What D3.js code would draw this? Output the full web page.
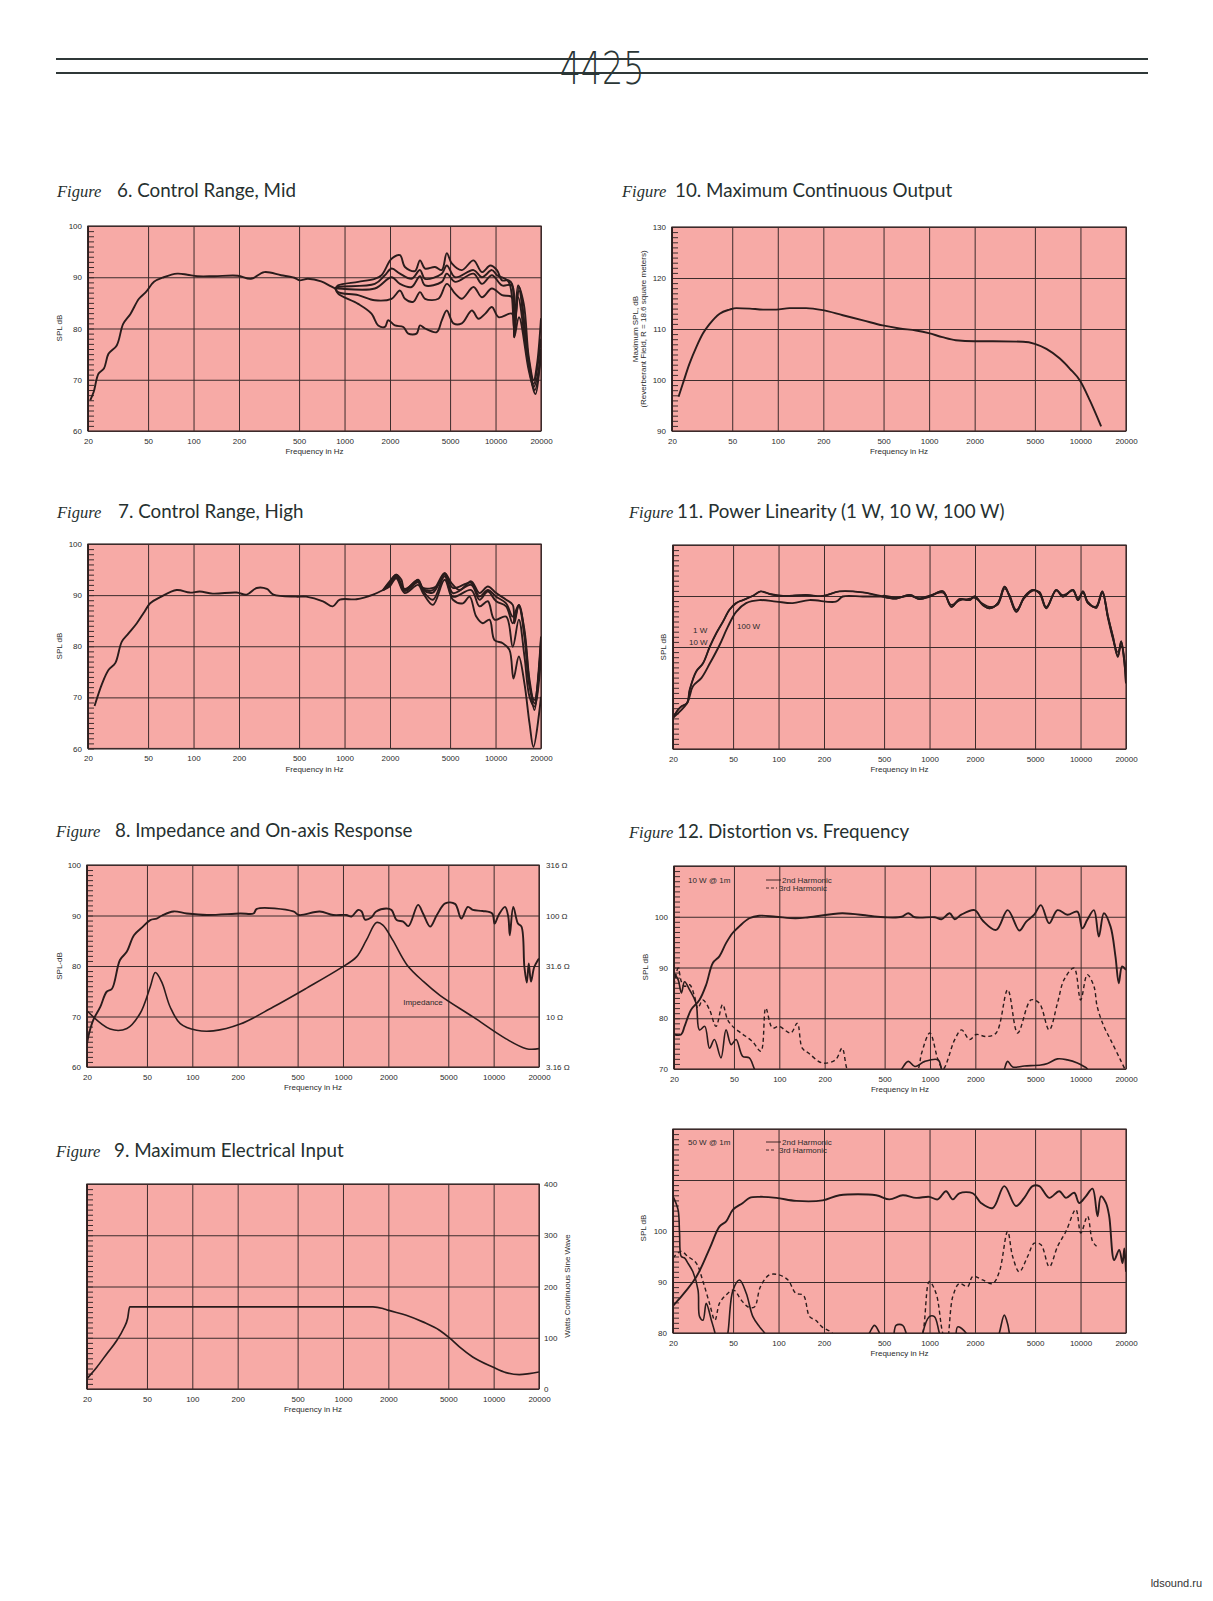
<!DOCTYPE html>
<html>
<head>
<meta charset="utf-8">
<script src="https://cdn.jsdelivr.net/npm/d3@7"></script>
<style>
  body {margin: 0; background: #fff;}
  .ax text {font-family: "Liberation Sans", Arial, sans-serif; font-size: 8px; fill: #2b2b2b;}
  .ax line {stroke: #3d2c2c; stroke-width: 1;}
  .lbl {font-family: "Liberation Sans", Arial, sans-serif; font-size: 8px; fill: #2b2b2b;}
  .ttl {font-family: Lato, "Open Sans", sans-serif; font-size: 18.8px; fill: #26302f;}
  .fig {font-family: "Liberation Serif", serif; font-style: italic; font-size: 16.5px; fill: #26302f;}
</style>
</head>
<body>
<script>
const freqTicks = [20, 50, 100, 200, 500, 1000, 2000, 5000, 10000, 20000]

// Figure 6. Control Range, Mid  (Hz, dB)
const midBase = [[20.7,66],[21.8,67.6],[23.5,71.2],[25.5,72.2],[27.4,75.1],[31,76.7],[34.2,80.9],[38.3,82.9],[43.5,85.8],[48.3,87.1],[54.7,89.1],[63.5,90],[78,90.7],[91,90.5],[106,90.2],[137,90.2],[196,90.3],[240,89.7],[294,91],[380,90.4],[465,89.9],[503,89.4],[572,89.7],[700,89.2],[815,88.2],[870,87.8]]
const midA = [[870,87.8],[906,88.4],[1230,89.1],[1586,89.7],[1758,90.4],[2048,93.6],[2328,94.3],[2512,92],[2926,91.2],[3160,93.3],[3412,91.7],[3975,92],[4406,91.4],[4755,94.7],[5130,92.7],[5980,91.4],[7150,93.3],[8125,91],[9230,92.3],[10220,91.4],[11040,89.4],[12220,89.4],[12860,88.7],[13300,79],[14100,88.4],[15380,84.8],[16600,74.4],[17900,69.9],[18840,73.1],[20000,82]]
const midB = [[870,87.8],[906,88.1],[1586,88.7],[1850,90.4],[2048,91.7],[2328,90.7],[2780,89.7],[3160,91.4],[3412,89.7],[4406,90.7],[4755,92.3],[5400,90],[7150,91.4],[8125,90],[9460,91.4],[10220,90.4],[12220,89.1],[13300,79.6],[14300,88.1],[16600,73.8],[17900,69.2],[20000,78]]
const midC = [[870,87.8],[906,87.8],[1586,87.8],[2048,90],[2328,88.7],[2780,88.1],[3160,90.2],[3412,88.4],[4406,89.1],[4755,90.7],[5400,89.1],[7150,90.7],[8125,88.7],[9460,90.4],[11040,88.4],[12860,88.4],[13300,80.3],[14300,87.4],[16600,73.1],[18200,68],[20000,75.1]]
const midD = [[870,87.8],[906,87.1],[1230,86.5],[1586,85.5],[2048,85.8],[2328,87.4],[2512,85.8],[2852,85.2],[3160,87.1],[3412,85.8],[4183,85.8],[4755,88.7],[5400,86.8],[5980,85.8],[7150,88.1],[8125,86.1],[9460,87.8],[11040,86.5],[12860,86.1],[13300,78.3],[14100,86.1],[16600,72.5],[18380,67.2],[20000,76]]
const midE = [[870,87.8],[906,86.8],[1230,84.8],[1508,82.9],[1670,80.6],[1850,80.3],[1946,81.6],[2155,80.6],[2449,80.3],[2642,79],[3000,79],[3160,80.6],[3412,80],[4078,79.3],[4406,81.6],[4755,83.5],[5260,81],[5980,81],[6970,83.5],[7715,81.9],[8550,82.9],[9460,84.2],[10480,82.2],[12860,82.9],[13300,78.3],[14300,82.2],[16600,71.8],[17900,68.6],[20000,74.4]]

// Figure 7. Control Range, High
const highBase = [[22.1,68.3],[24.8,72.7],[27.4,75.4],[30.3,76.7],[33.5,80.9],[37.1,82.5],[42.1,84.5],[46.7,86.5],[51.6,88.4],[60.1,89.6],[77.3,91],[94.5,90.5],[110,90.7],[134,90.3],[193,90.5],[225,90.1],[262,91.4],[306,91.2],[338,90.1],[478,89.7],[557,89.7],[720,88.8],[835,87.8],[930,89.1],[1200,89.2],[1546,90.1],[1800,91]]
const highA = [[1800,91],[1990,92.7],[2200,94],[2380,93],[2500,91],[3070,93],[3310,91.4],[4050,91.7],[4600,94.3],[5090,92.4],[5780,91],[6900,92.7],[7830,90.4],[8890,91.7],[10100,90.4],[11750,89.1],[13000,88.1],[13340,84.5],[14260,88.1],[15540,83.2],[16790,73.4],[18100,68.8],[20000,81.9]]
const highB = [[1800,91],[1990,92.5],[2200,94],[2500,91.2],[3070,92.9],[3310,91.2],[3850,91],[4600,94.3],[5220,91.4],[6900,92.4],[7830,89.7],[8890,91],[10100,89.7],[11750,88.4],[13000,85.8],[14260,88.1],[15540,82.5],[16790,72.7],[18100,67.5],[20000,81.2]]
const highC = [[1800,91],[1990,92.3],[2200,93.8],[2500,91],[3070,92.7],[3310,91],[3850,90.5],[4600,94],[5220,90.4],[6900,92],[7830,89.1],[8890,90.7],[10100,88.8],[11750,87.8],[13000,84.5],[14260,87.8],[15540,81.9],[16790,72.1],[18100,69.5],[20000,79.9]]
const highD = [[1800,91],[1990,92],[2200,93.6],[2500,90.8],[3070,92.5],[3310,90.8],[3850,89.1],[4600,93.7],[5220,89.7],[6900,91],[7830,87.8],[8890,88.8],[9840,85.2],[11750,85.8],[13000,79.9],[14260,85.2],[15540,78],[16790,70.1],[18100,68.2],[20000,78]]
const highE = [[1800,91],[1990,91.7],[2200,93.3],[2500,90.4],[3070,92],[3310,90.4],[3850,88.1],[4600,93],[5220,89.1],[6080,88.4],[6730,89.7],[7450,85.8],[8240,84.5],[9120,85.2],[9840,81.2],[11170,80.6],[12360,79.3],[13150,73.7],[14260,78],[15540,72.7],[16790,64.9],[17830,60.3],[20000,70.1]]

// Figure 8. Impedance and On-axis Response
const onAxisSpl = [[20,64.6],[20.5,66.3],[22,69.3],[24.5,71.9],[27,74.9],[29.3,75.5],[33.1,81.2],[36.7,82.8],[41,86.1],[47,87.8],[52.6,89.1],[58,89.4],[63,90],[75,90.8],[92,90.4],[125,90.1],[208,90.4],[255,90.4],[268,91.3],[468,90.8],[510,90.1],[700,90.8],[860,90.1],[1050,90.1],[1140,89.8],[1260,91.1],[1330,90.8],[1400,89.2],[1540,89.6],[1660,90.8],[1940,91.4],[2100,91.1],[2270,89.1],[2510,88.8],[2720,87.9],[3150,92.1],[3400,90.4],[3790,87.8],[4200,90.1],[4770,92.4],[5540,92.3],[6100,89.4],[6740,91.7],[7280,91.1],[8450,90.9],[9780,90.4],[10150,88.4],[10800,90.1],[11900,91.7],[12500,89.8],[12800,86.1],[13500,91.7],[14500,88.4],[15300,87.8],[16000,79.8],[16600,76.7],[17100,80.5],[17700,76.9],[18600,79.8],[20000,81.5]]
const impedanceOhm = [[20,11.4],[28.5,7.5],[36.8,7.6],[45,10.7],[52.6,19.7],[56.8,27.2],[62.5,22.1],[71.3,12.4],[83.2,8.5],[107,7.3],[138,7.2],[208,8.4],[344,12.4],[574,19.1],[957,29.9],[1230,38.9],[1430,56.9],[1670,85.1],[1840,80.4],[2140,56.9],[2660,32.4],[3430,22.1],[4400,16.2],[7300,9.9],[12100,6.0],[16500,4.8],[20000,4.8]]
const ohmTicks = [3.16, 10, 31.6, 100, 316]

// Figure 9. Maximum Electrical Input (watts)
const maxInputW = [[20,20.2],[23.3,43],[27.1,69],[31.6,95],[35,118],[37.2,137.5],[38.4,160.3],[1582,160.3],[1842,157],[1988,153.8],[2630,144],[3390,131],[4370,114.7],[5090,99.7],[5930,82.1],[7260,62.5],[9860,43],[12080,32],[14800,28],[17220,30],[20000,33.2]]
const wattTicks = [0, 100, 200, 300, 400]

// Figure 10. Maximum Continuous Output
const maxOutput = [[22.1,96.7],[23.6,99.3],[26.1,103.2],[29,106.5],[32,109.1],[35.5,111],[41.3,113],[48,113.8],[53.2,114.1],[65.4,114],[79.9,113.8],[97.7,113.8],[119.6,114.1],[154,114.1],[198.5,113.7],[269,112.7],[366,111.7],[494,110.7],[637,110.1],[820,109.7],[994,109.2],[1225,108.4],[1500,107.8],[1990,107.6],[2640,107.6],[4170,107.5],[4990,107.1],[5960,106.1],[7310,104.2],[8520,102.2],[9920,99.9],[11540,96],[13700,90.9]]

// Figure 11. Power Linearity
const lin1W = [[20,66.1],[21.6,67.7],[22.6,68.3],[24.8,69],[25.8,71.6],[28.5,75.2],[31.6,76.8],[35.1,80.1],[38.7,82.7],[42.9,85],[47.3,87.3],[52.4,88.6],[58,89.2],[67.3,90],[76.2,90.9],[87.3,90.4],[107,90],[152,90.2],[196,90],[253,90.9],[361,90.7],[492,89.9]]
const lin100W = [[20,66.1],[24.8,69],[27.1,72.3],[30.8,73.9],[35.1,76.8],[40.7,80.4],[46.2,84],[52.4,86.9],[61,88.6],[74.5,89.2],[96.5,88.9],[124,88.6],[160,89.2],[240,88.9],[266,89.9],[361,89.9],[492,89.9]]
const linHighA = [[492,89.9],[602,89.5],[738,90.2],[860,89.4],[1000,89.9],[1227,90.9],[1394,87.9],[1582,89.4],[1842,89.2],[1988,89.9],[2260,88.2],[2500,87.6],[2838,88.6],[3140,91.8],[3388,89.9],[3752,86.9],[4260,89.9],[4840,91.2],[5360,90.5],[5930,87.6],[6900,91.2],[7640,89.9],[8900,91.2],[9620,89.2],[10380,90.9],[11200,88.6],[12700,87.9],[13930,90.9],[15180,86],[16380,82],[17660,78.1],[18580,81.1],[19550,76.8],[20000,72.9]]
const linHighB = [[492,90.1],[602,89.7],[738,90],[860,89.6],[1000,90.1],[1227,90.6],[1394,88.3],[1582,89.1],[1842,89.5],[1988,89.6],[2260,88.5],[2500,87.9],[2838,88.3],[3140,91.4],[3388,90.2],[3752,87.3],[4260,89.6],[4840,91],[5360,90.8],[5930,87.9],[6900,91],[7640,90.2],[8900,91],[9620,89.5],[10380,90.6],[11200,88.9],[12700,87.6],[13930,90.6],[15180,85.5],[16380,81.5],[17660,79],[18580,80.2],[19550,77.5],[20000,74]]

// Figure 12. Distortion vs. Frequency, 10 W @ 1m
const dist10Fund = [[20,76.8],[22.3,76.8],[23.5,78.4],[26,81.7],[29.5,83.6],[32.7,86.6],[36.2,90.9],[40,92.2],[44.3,94.8],[49,96.8],[54.2,98.1],[63.2,99.7],[73.5,100.2],[94.6,100],[128,99.7],[157,99.9],[261,100.7],[391,100.2],[504,99.9],[649,100],[718,100.7],[794,99.9],[1077,99.9],[1192,99.5],[1352,100.7],[1460,99.5],[1614,100.4],[1978,101.3],[2244,99.2],[2750,97.4],[3280,101.3],[3920,97.3],[4340,99],[4920,100.4],[5450,102.3],[6180,98.7],[7020,101.3],[8170,100.4],[9510,101],[10260,97.7],[11070,99.4],[12250,101.3],[13210,96.1],[14260,100.7],[15780,98.1],[17020,92.2],[17910,86.9],[18840,90.2],[20000,89.5]]
const dist10H2 = [[20,88.9],[21.3,87.6],[22.4,85],[23.5,87.2],[25.4,85.6],[28,83],[29.5,77.7],[32,78.4],[34.4,74.1],[37.1,75.8],[41,72.2],[44.3,77.7],[47.9,74.8],[51.7,75.8],[57.1,72.5],[63.2,72.2],[68.4,70],[80,66],[550,66],[649,70],[718,71.5],[794,70.5],[925,71.5],[1132,71.8],[1192,70],[1300,66],[2900,66],[3120,70],[3280,71.5],[3540,70.4],[4230,70.6],[5450,70.8],[6030,71.1],[7020,72],[8170,71.8],[9510,71.2],[10520,70.5],[11070,70],[12000,66]]
const dist10H3 = [[20,86.6],[21.3,89.9],[22.4,87.2],[23.5,86.3],[25.4,86.6],[27.4,84.3],[28.8,82],[31.1,83.6],[34.4,81.7],[38,78.4],[42,82.7],[45.4,79.7],[49,78.4],[55.6,77.1],[66.4,75.4],[75.4,73.5],[81.3,82],[90,78.1],[99.6,78.4],[119,77.1],[131.6,79],[142,74.1],[157,73.1],[192,71.2],[236,71.8],[261,74.1],[281,70],[320,66],[700,66],[836,70],[880,73.1],[998,77.1],[1132,71.8],[1222,70],[1460,75.8],[1620,77.7],[1832,75.8],[2028,76.8],[2360,76.4],[2750,77.1],[3280,85.6],[3820,77.1],[4680,83.6],[5310,83],[6180,77.7],[7020,83],[7760,87.6],[9040,89.9],[10000,83.6],[11070,88.6],[12250,86.3],[12880,82.3],[14260,78.4],[15780,75.8],[18370,71.8],[20000,69.5]]

// Figure 12, 50 W @ 1m
const dist50Fund = [[20,85.3],[28.5,91],[35,96.6],[40.7,100.9],[45,101.9],[49.9,104.2],[58,105.5],[64.3,106.5],[74.9,106.7],[96.6,106.5],[131,105.9],[196,106],[253,107],[443,107],[542,106.2],[664,107],[815,106.5],[997,106.7],[1132,106.2],[1286,107.8],[1424,106.2],[1575,107.4],[1932,107.4],[2192,105.5],[2618,104.5],[3126,108.8],[3732,104.9],[4238,106.5],[4812,108.8],[5330,108.8],[6210,106.5],[7230,107.8],[8000,106.5],[9080,107.5],[9800,105.5],[10840,106.8],[12000,108.3],[12950,102.9],[13640,106.8],[14720,105.5],[15480,102.9],[16700,94.3],[18020,96.3],[18960,93.7],[19500,96.6],[20000,92]]
const dist50H2 = [[20,106.8],[21.6,104.2],[22.1,99.6],[22.7,95],[23.9,94.7],[25.1,93.7],[27.1,92],[29.3,88.4],[30,83.2],[31.6,82.5],[33.2,85.8],[35.9,82.5],[37.8,80.2],[40,77],[44,77],[46.2,80],[49.9,88.4],[55.2,90.4],[61.1,87.8],[67.6,83.2],[74.9,81.2],[80.8,80],[90,77],[360,77],[400,80],[432,81.5],[466,80],[500,77],[560,77],[600,81.5],[664,81.5],[700,80],[760,77],[880,77],[902,80],[997,83.2],[1077,83.2],[1161,80],[1250,77],[1450,77],[1535,81.2],[1744,80],[1900,77],[2700,77],[2898,80],[3126,83.5],[3288,81.8],[3374,80],[3500,77]]
const dist50H3 = [[20,94.7],[22.6,96],[25.1,95],[28.5,93.7],[31.6,90.1],[34.9,85.8],[37.9,82.5],[40.6,85.8],[44.7,87.4],[50.5,88.4],[56.8,86.4],[62.9,85.1],[69.2,85.1],[75.9,89.1],[87.1,91.4],[100.4,91.4],[115.5,90.4],[130,87.8],[146,87.4],[160.5,83.2],[176.5,82.5],[194,81.2],[226,80],[260,77],[820,77],[902,80],[997,90.1],[1104,87.8],[1222,80],[1300,78],[1424,87.1],[1575,89.7],[1788,89.1],[1932,91.1],[2248,90.4],[2618,89.7],[2898,92],[3288,99.9],[3550,95],[3928,92],[4460,95],[4936,97.6],[5470,97.3],[6210,93],[7050,97],[8000,99.9],[9310,104.2],[10040,99.6],[11120,102.9],[12000,98],[12770,97]]

const PINK = '#f7aaa6'
const INK = '#2a1c1c'

const svg = d3.select('body').append('svg').attr('width', 1213).attr('height', 1601)
svg.append('rect').attr('width', 1213).attr('height', 1601).attr('fill', '#fff')

// header
svg.append('line').attr('x1', 56).attr('x2', 1148).attr('y1', 59).attr('y2', 59).attr('stroke', '#2f3838').attr('stroke-width', 2)
svg.append('line').attr('x1', 56).attr('x2', 1148).attr('y1', 73).attr('y2', 73).attr('stroke', '#2f3838').attr('stroke-width', 2)
svg.append('text').attr('text-anchor', 'middle')
  .attr('transform', 'translate(602,84) scale(0.74,1)')
  .style('font-family', '"DejaVu Sans", sans-serif').style('font-weight', 200)
  .style('font-size', '45px').style('fill', '#2a3636').text('4425')

let clipN = 0
function panel(c) {
  const x = d3.scaleLog().domain([20, 20000]).range([c.l, c.r])
  const y = d3.scaleLinear().domain(c.yDomain).range([c.b, c.t])
  const w = c.r - c.l, h = c.b - c.t
  const g = svg.append('g')
  g.append('rect').attr('x', c.l).attr('y', c.t).attr('width', w).attr('height', h).attr('fill', PINK)

  const xa = g.append('g').attr('class', 'ax').attr('transform', `translate(0,${c.b})`)
    .call(d3.axisBottom(x).tickValues(freqTicks).tickSize(-h).tickPadding(7).tickFormat(d3.format('d')))
  xa.select('.domain').remove()

  const ya = g.append('g').attr('class', 'ax').attr('transform', `translate(${c.l},0)`)
    .call(d3.axisLeft(y).tickValues(c.major).tickSize(-w).tickPadding(6)
      .tickFormat(d => (c.labels && c.labels.includes(d)) ? d : ''))
  ya.select('.domain').remove()

  const mi = g.append('g').attr('class', 'ax').attr('transform', `translate(${c.l},0)`)
    .call(d3.axisLeft(y).tickValues(d3.range(c.yDomain[0], c.yDomain[1], c.step)).tickSize(-6).tickFormat(''))
  mi.select('.domain').remove()

  g.append('rect').attr('x', c.l).attr('y', c.t).attr('width', w).attr('height', h)
    .attr('fill', 'none').attr('stroke', '#3d2c2c').attr('stroke-width', 1.2)
  g.append('line').attr('x1', c.l).attr('x2', c.l).attr('y1', c.t).attr('y2', c.b)
    .attr('stroke', '#2d2020').attr('stroke-width', 1.8)

  g.append('text').attr('class', 'lbl').attr('x', (c.l + c.r) / 2).attr('y', c.b + 23)
    .attr('text-anchor', 'middle').text('Frequency in Hz')

  const id = 'clip' + (clipN++)
  svg.append('clipPath').attr('id', id).append('rect')
    .attr('x', c.l).attr('y', c.t).attr('width', w).attr('height', h)
  const plot = g.append('g').attr('clip-path', `url(#${id})`)
  return {x, y, g, plot}
}

function draw(p, data, opt = {}) {
  const line = d3.line().x(d => p.x(d[0])).y(d => (opt.y || p.y)(d[1]))
    .curve(opt.curve || d3.curveCatmullRom.alpha(0.5))
  p.plot.append('path').datum(data).attr('d', line).attr('fill', 'none')
    .attr('stroke', INK).attr('stroke-width', opt.width || 1.9)
    .attr('stroke-linejoin', 'round')
    .attr('stroke-dasharray', opt.dash || null)
}

function title(x1, x2, y, num) {
  svg.append('text').attr('class', 'fig').attr('x', x1).attr('y', y).text('Figure')
  svg.append('text').attr('class', 'ttl').attr('x', x2).attr('y', y).text(num)
}

function vlabel(x, y, txt, rot = -90) {
  svg.append('text').attr('class', 'lbl').attr('text-anchor', 'middle')
    .attr('transform', `translate(${x},${y}) rotate(${rot})`).attr('dy', '0.35em').text(txt)
}

const dbMajor = [60, 70, 80, 90, 100]

// Figure 6
title(57, 117, 197, '6. Control Range, Mid')
const p6 = panel({l: 88, r: 541, t: 226, b: 431, yDomain: [60, 100], major: dbMajor, labels: dbMajor, step: 1})
vlabel(59, 328, 'SPL dB')
draw(p6, midBase)
;[midA, midB, midC, midD, midE].forEach(s => draw(p6, s))

// Figure 7
title(57, 118, 518, '7. Control Range, High')
const p7 = panel({l: 88, r: 541, t: 544, b: 748.5, yDomain: [60, 100], major: dbMajor, labels: dbMajor, step: 1})
vlabel(59, 646, 'SPL dB')
draw(p7, highBase)
;[highA, highB, highC, highD, highE].forEach(s => draw(p7, s))

// Figure 8
title(56, 115, 837, '8. Impedance and On-axis Response')
const p8 = panel({l: 87, r: 539, t: 865, b: 1067, yDomain: [60, 100], major: dbMajor, labels: dbMajor, step: 1})
vlabel(59, 966, 'SPL-dB')
const z = d3.scaleLog().domain([3.16, 316]).range([1067, 865])
const za = p8.g.append('g').attr('class', 'ax').attr('transform', 'translate(539,0)')
  .call(d3.axisRight(z).tickValues(ohmTicks).tickSize(0).tickPadding(7).tickFormat(d => d + ' Ω'))
za.select('.domain').remove()
draw(p8, onAxisSpl)
draw(p8, impedanceOhm, {y: z, width: 1.6})
svg.append('text').attr('class', 'lbl').attr('x', 423).attr('y', 1004.5)
  .attr('text-anchor', 'middle').text('Impedance')

// Figure 9
title(56, 114, 1157, '9. Maximum Electrical Input')
const p9 = panel({l: 87, r: 539, t: 1184, b: 1389, yDomain: [0, 400], major: wattTicks, labels: [], step: 10})
const wa = p9.g.append('g').attr('class', 'ax').attr('transform', 'translate(539,0)')
  .call(d3.axisRight(p9.y).tickValues(wattTicks).tickSize(0).tickPadding(5))
wa.select('.domain').remove()
vlabel(567, 1286, 'Watts Continuous Sine Wave')
draw(p9, maxInputW, {curve: d3.curveMonotoneX, width: 1.7})

// Figure 10
title(622, 675, 197, '10. Maximum Continuous Output')
const p10 = panel({l: 672, r: 1126, t: 227, b: 431, yDomain: [90, 130], major: [90, 100, 110, 120, 130], labels: [90, 100, 110, 120, 130], step: 1})
vlabel(635, 329, 'Maximum SPL, dB')
vlabel(643, 329, '(Reverberant Field, R = 18.6 square meters)')
draw(p10, maxOutput, {curve: d3.curveMonotoneX, width: 1.9})

// Figure 11
title(629, 677, 518, '11. Power Linearity (1 W, 10 W, 100 W)')
const p11 = panel({l: 673, r: 1126, t: 545, b: 749, yDomain: [60, 100], major: dbMajor, labels: [], step: 1})
vlabel(663, 647, 'SPL dB')
draw(p11, lin1W.concat(linHighA))
draw(p11, lin1W.concat(linHighB), {width: 1.4})
draw(p11, lin100W.concat(linHighA))
svg.append('text').attr('class', 'lbl').attr('x', 693).attr('y', 633).text('1 W')
svg.append('text').attr('class', 'lbl').attr('x', 689).attr('y', 644.5).text('10 W')
svg.append('text').attr('class', 'lbl').attr('x', 737).attr('y', 629).text('100 W')

// Figure 12, 10 W
title(629, 677, 838, '12. Distortion vs. Frequency')
const p12 = panel({l: 674, r: 1126, t: 866, b: 1069, yDomain: [70, 110], major: [70, 80, 90, 100, 110], labels: [70, 80, 90, 100], step: 1})
vlabel(645, 967, 'SPL dB')
draw(p12, dist10Fund)
draw(p12, dist10H2, {width: 1.6})
draw(p12, dist10H3, {width: 1.4, dash: '4,3'})

// Figure 12, 50 W
const p13 = panel({l: 673, r: 1126, t: 1129, b: 1333, yDomain: [80, 120], major: [80, 90, 100, 110, 120], labels: [80, 90, 100], step: 1})
vlabel(643, 1228, 'SPL dB')
draw(p13, dist50Fund)
draw(p13, dist50H2, {width: 1.6})
draw(p13, dist50H3, {width: 1.4, dash: '4,3'})

// legends for Figure 12
function legend(top, power, x2dash) {
  svg.append('text').attr('class', 'lbl').attr('x', 688).attr('y', top + 3).text(power)
  svg.append('line').attr('x1', 766).attr('x2', 781).attr('y1', top).attr('y2', top)
    .attr('stroke', INK).attr('stroke-width', 0.9)
  svg.append('text').attr('class', 'lbl').attr('x', 782).attr('y', top + 3).text('2nd Harmonic')
  svg.append('line').attr('x1', 766).attr('x2', x2dash).attr('y1', top + 8).attr('y2', top + 8)
    .attr('stroke', INK).attr('stroke-width', 0.9).attr('stroke-dasharray', '3,2')
  svg.append('text').attr('class', 'lbl').attr('x', 779).attr('y', top + 11).text('3rd Harmonic')
}
legend(880, '10 W @ 1m', 777)
legend(1142, '50 W @ 1m', 775)

svg.append('text').attr('x', 1202).attr('y', 1587).attr('text-anchor', 'end')
  .style('font-family', '"Liberation Sans", Arial, sans-serif').style('font-size', '11px')
  .style('fill', '#333').text('ldsound.ru')
</script>
</body>
</html>
